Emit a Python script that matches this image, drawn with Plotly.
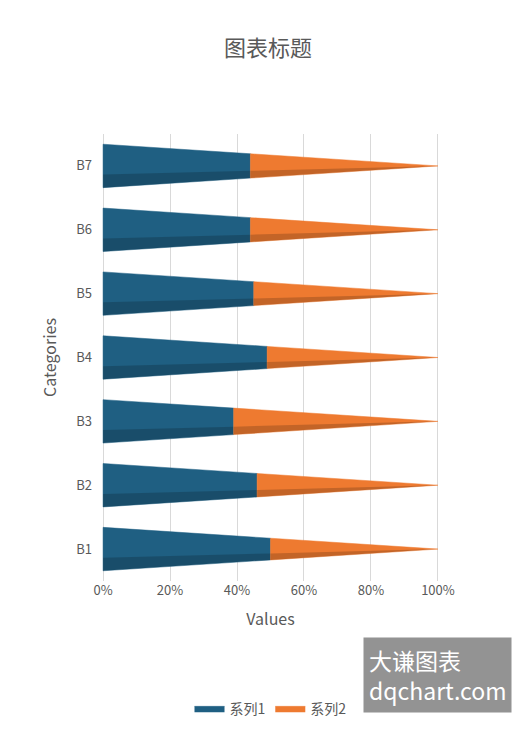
import plotly.graph_objects as go

categories = ['B1', 'B2', 'B3', 'B4', 'B5', 'B6', 'B7']
series1 = [0.50, 0.46, 0.39, 0.49, 0.45, 0.44, 0.44]
series2 = [round(1 - v, 2) for v in series1]
tick_vals = [0, 0.2, 0.4, 0.6, 0.8, 1.0]
tick_text = ['0%', '20%', '40%', '60%', '80%', '100%']

colors = ['#1f5f82', '#ee7a30']
R = 0.34  # cone base radius in category units

fig = go.Figure()
for i, (a, b) in enumerate(zip(series1, series2)):
    total = a + b
    # cone segment polygons computed from the values
    segs = [(0, a, colors[0], '系列1'), (a, total, colors[1], '系列2')]
    for x0, x1, c, name in segs:
        r0 = R * (1 - x0 / total)
        r1 = R * (1 - x1 / total)
        fig.add_trace(go.Scatter(
            x=[x0, x1, x1, x0, x0], y=[i - r0, i - r1, i + r1, i + r0, i - r0],
            fill='toself', fillcolor=c, mode='lines', line=dict(color=c, width=0.5),
            name=name, legendgroup=name, showlegend=(i == 0), hoverinfo='skip'))
        # darker lower shade for a rounded look
        fig.add_trace(go.Scatter(
            x=[x0, x1, x1, x0, x0], y=[i - r0, i - r1, i - r1 * 0.4, i - r0 * 0.4, i - r0],
            fill='toself', fillcolor='rgba(0,0,0,0.18)', mode='lines', line=dict(width=0),
            showlegend=False, hoverinfo='skip'))

fig.update_layout(
    width=520, height=729,
    paper_bgcolor='white', plot_bgcolor='white',
    font=dict(family='Noto Sans CJK SC', color='#595959', size=13),
    title=dict(text='图表标题', x=0.5, y=0.955, font=dict(size=22, color='#595959')),
    margin=dict(l=85, r=80, t=126, b=151),
    legend=dict(orientation='h', x=0.5, xanchor='center', y=-0.25, font=dict(size=14)),
    showlegend=True,
)
fig.update_xaxes(range=[-0.03, 1.03], tickvals=tick_vals, ticktext=tick_text,
                 showgrid=True, gridcolor='#d9d9d9', zeroline=False,
                 title=dict(text='Values', font=dict(size=16)))
fig.update_yaxes(range=[-0.5, 6.5], tickvals=list(range(7)), ticktext=categories,
                 showgrid=False, zeroline=False, ticks='', ticklen=18, tickcolor='white',
                 title=dict(text='Categories', font=dict(size=16)))
fig.add_annotation(text='大谦图表<br>dqchart.com', xref='paper', yref='paper',
                   x=1.18, y=-0.296, xanchor='right', yanchor='bottom', showarrow=False,
                   align='left', bgcolor='rgba(128,128,128,0.85)',
                   font=dict(color='white', size=23), borderpad=5)
fig.write_html('out.html')
